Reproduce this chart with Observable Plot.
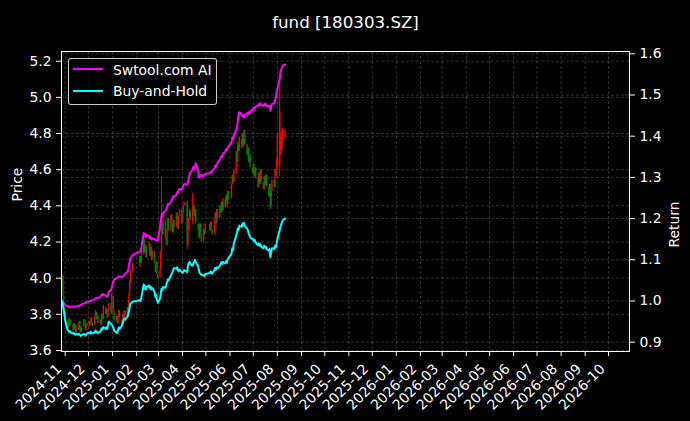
<!DOCTYPE html>
<html><head><meta charset="utf-8">
<script src="https://cdn.jsdelivr.net/npm/d3@7"></script>
<script src="https://cdn.jsdelivr.net/npm/@observablehq/plot@0.6"></script>
<style>
html,body{margin:0;padding:0;background:#000;}
#wrap{position:relative;width:690px;height:421px;overflow:hidden;font-family:"DejaVu Sans",sans-serif;}
#wrap svg{position:absolute;left:0;top:0;}
.lg{position:absolute;}
#legend{left:68px;top:58px;width:149px;height:47px;border:1px solid rgba(255,255,255,0.8);border-radius:3px;background:rgba(0,0,0,0.8);box-sizing:border-box;}
.sw{height:2px;width:30px;left:73px;}
.lt{left:113px;color:#fff;font-size:13.9px;line-height:16px;white-space:nowrap;}
</style>
</head><body>
<div id="wrap"></div>
<script>
// ---------------- data ----------------
const title = "fund [180303.SZ]";
const seriesNames = ["Swtool.com AI", "Buy-and-Hold"];
const holidays = ["2025-01-01","2025-01-28","2025-01-29","2025-01-30","2025-01-31","2025-02-03","2025-02-04","2025-04-04","2025-05-01","2025-05-02","2025-05-05","2025-06-02"];
const firstDay = "2024-10-28", lastDay = "2025-08-11";

const opens = [
 3.96,4.01,3.90,3.84,
 3.81,3.76,3.72,3.78,3.73,3.77,3.74,3.71,3.75,3.72,3.70,3.74,3.71,3.76,3.73,3.70,3.73,3.77,3.74,3.71,3.75,
 3.73,3.76,3.74,3.78,3.75,3.74,3.79,3.81,3.77,3.79,3.75,3.77,3.74,3.80,3.77,3.84,3.80,3.83,3.78,3.82,3.86,3.80,
 3.90,3.82,3.76,3.79,3.75,3.78,3.82,3.77,3.74,3.80,3.77,3.82,3.79,3.84,3.82,3.92,3.97,4.03,
 4.06,4.12,4.08,4.13,4.21,4.14,4.18,4.11,4.16,4.19,4.12,4.17,4.10,4.15,4.08,4.03,4.09,4.02,
 4.00,4.05,4.15,4.30,4.24,4.32,4.22,4.18,4.27,4.33,4.26,4.35,4.30,4.25,4.32,4.28,4.36,4.31,4.27,4.34,4.38,
 4.30,4.36,4.40,4.42,4.18,4.26,4.33,4.37,4.32,4.36,4.40,4.34,4.38,4.30,4.26,4.22,4.30,4.25,4.20,4.27,4.24,
 4.30,4.26,4.31,4.27,4.24,4.32,4.36,4.30,4.38,4.33,4.40,4.36,4.42,4.37,4.44,4.39,4.46,4.41,4.48,
 4.44,4.52,4.57,4.53,4.58,4.70,4.64,4.74,4.70,4.77,4.72,4.79,4.73,4.81,4.74,4.68,4.72,4.64,4.68,4.61,
 4.58,4.63,4.56,4.61,4.55,4.50,4.58,4.52,4.60,4.53,4.49,4.56,4.51,4.57,4.50,4.45,4.52,4.40,4.48,4.54,4.50,4.60,4.56,
 4.62,4.62,4.68,4.70,4.72,4.76,4.77
];
const closes = [
 4.02,3.90,3.84,3.80,
 3.76,3.72,3.77,3.73,3.76,3.74,3.71,3.75,3.72,3.70,3.74,3.71,3.76,3.73,3.70,3.73,3.77,3.74,3.71,3.75,3.73,
 3.76,3.74,3.78,3.75,3.73,3.79,3.82,3.77,3.79,3.75,3.77,3.74,3.80,3.77,3.85,3.80,3.83,3.78,3.82,3.86,3.80,3.91,
 3.82,3.76,3.79,3.75,3.78,3.82,3.78,3.74,3.80,3.77,3.82,3.79,3.84,3.81,3.92,3.98,4.04,4.08,
 4.12,4.08,4.15,4.22,4.14,4.18,4.11,4.16,4.20,4.12,4.17,4.10,4.15,4.08,4.03,4.09,4.02,4.00,
 4.05,4.15,4.30,4.24,4.32,4.22,4.18,4.27,4.33,4.26,4.35,4.30,4.25,4.32,4.28,4.36,4.31,4.27,4.34,4.38,4.30,
 4.36,4.40,4.42,4.20,4.26,4.33,4.38,4.32,4.36,4.40,4.34,4.38,4.30,4.26,4.22,4.30,4.25,4.20,4.27,4.24,4.30,
 4.26,4.31,4.27,4.24,4.32,4.36,4.30,4.38,4.33,4.40,4.36,4.42,4.37,4.44,4.39,4.46,4.41,4.48,4.43,
 4.52,4.57,4.53,4.60,4.70,4.64,4.75,4.70,4.78,4.72,4.80,4.73,4.82,4.74,4.68,4.72,4.64,4.68,4.61,4.58,
 4.63,4.56,4.61,4.55,4.50,4.58,4.52,4.60,4.53,4.49,4.56,4.51,4.57,4.50,4.45,4.52,4.38,4.48,4.54,4.50,4.60,4.56,4.66,
 4.80,4.92,4.80,4.78,4.82,4.83,4.82
];
const wickDates = ["2025-03-05","2025-04-07","2025-04-14","2025-08-04"];
const wickLows  = [4.15, 4.16, 4.30, 4.56];
const wickHighs = [4.56, 4.42, 4.47, 5.06];

const aiReturn = [
 1.000,0.998,0.995,0.992,
 0.990,0.987,0.987,0.986,0.987,0.986,0.986,0.987,0.986,0.986,0.987,0.987,0.988,0.990,0.990,0.991,0.994,0.995,0.995,0.997,0.998,
 0.999,1.000,1.001,1.000,1.002,1.004,1.007,1.006,1.008,1.007,1.010,1.012,1.016,1.014,1.017,1.013,1.011,1.010,1.014,1.022,1.026,1.034,
 1.048,1.052,1.055,1.057,1.058,1.060,1.059,1.058,1.060,1.061,1.062,1.066,1.070,1.075,1.088,1.096,1.104,1.112,
 1.120,1.122,1.130,1.165,1.158,1.163,1.156,1.160,1.158,1.152,1.155,1.150,1.152,1.150,1.148,1.149,1.147,1.147,
 1.178,1.195,1.210,1.205,1.214,1.218,1.222,1.228,1.236,1.233,1.240,1.245,1.250,1.254,1.252,1.258,1.264,1.262,1.268,1.272,1.270,
 1.276,1.280,1.284,1.282,1.290,1.298,1.305,1.312,1.318,1.326,1.320,1.328,1.334,1.318,1.300,1.305,1.302,1.306,1.303,1.306,1.308,
 1.310,1.314,1.312,1.315,1.322,1.328,1.326,1.332,1.336,1.344,1.348,1.352,1.350,1.358,1.362,1.368,1.366,1.372,1.374,
 1.385,1.396,1.392,1.402,1.415,1.422,1.436,1.450,1.458,1.452,1.448,1.452,1.446,1.450,1.456,1.452,1.458,1.455,1.460,1.465,
 1.468,1.464,1.470,1.472,1.475,1.478,1.474,1.480,1.476,1.474,1.478,1.476,1.479,1.474,1.472,1.474,1.462,1.470,1.478,1.480,1.488,1.494,1.508,
 1.515,1.538,1.556,1.562,1.568,1.572,1.574
];
const bhReturn = [
 1.000,0.990,0.978,0.968,
 0.952,0.930,0.928,0.925,0.927,0.924,0.921,0.923,0.920,0.918,0.921,0.918,0.921,0.918,0.915,0.917,0.920,0.918,0.916,0.919,0.921,
 0.923,0.921,0.925,0.923,0.921,0.924,0.928,0.924,0.926,0.922,0.925,0.929,0.934,0.931,0.937,0.933,0.936,0.932,0.940,0.950,0.944,0.942,
 0.935,0.928,0.924,0.922,0.928,0.936,0.932,0.940,0.947,0.951,0.957,0.955,0.962,0.966,0.975,0.985,0.994,0.998,
 1.002,1.000,1.008,1.040,1.030,1.036,1.028,1.034,1.038,1.030,1.035,1.028,1.032,1.022,1.010,1.015,1.002,0.996,
 1.005,1.018,1.030,1.026,1.034,1.032,1.038,1.045,1.052,1.050,1.062,1.066,1.070,1.076,1.080,1.078,1.082,1.075,1.072,1.076,1.070,
 1.068,1.072,1.075,1.070,1.085,1.093,1.095,1.090,1.086,1.092,1.095,1.100,1.094,1.085,1.075,1.068,1.066,1.064,1.062,1.060,1.065,
 1.068,1.072,1.070,1.066,1.075,1.080,1.076,1.082,1.079,1.086,1.090,1.094,1.090,1.095,1.091,1.097,1.093,1.100,1.104,
 1.115,1.128,1.124,1.140,1.158,1.165,1.176,1.172,1.183,1.180,1.188,1.184,1.190,1.182,1.176,1.172,1.164,1.160,1.155,1.150,
 1.150,1.145,1.148,1.142,1.136,1.140,1.134,1.138,1.132,1.128,1.134,1.130,1.132,1.126,1.122,1.126,1.106,1.118,1.128,1.126,1.134,1.130,1.140,
 1.150,1.172,1.180,1.186,1.192,1.196,1.200
];
const priceTicks = [3.6,3.8,4.0,4.2,4.4,4.6,4.8,5.0,5.2];
const returnTicks = [0.9,1.0,1.1,1.2,1.3,1.4,1.5,1.6];
const monthTickStart = "2024-11-01", monthTickEnd = "2026-10-01";
const xDomain = ["2024-10-27T06:00Z", "2026-10-28T00:00Z"];
const priceDomain = [3.5945, 5.2537];
const returnDomain = [0.8774, 1.6056];

// ---------------- build ----------------
const dates = [];
for (let t = Date.parse(firstDay + "T00:00Z"); t <= Date.parse(lastDay + "T00:00Z"); t += 86400000) {
  const d = new Date(t), wd = d.getUTCDay(), s = d.toISOString().slice(0, 10);
  if (wd > 0 && wd < 6 && !holidays.includes(s)) dates.push(d);
}
const n = Math.min(dates.length, opens.length, closes.length, aiReturn.length, bhReturn.length);
const rows = [];
for (let i = 0; i < n; i++) rows.push({date: dates[i], open: opens[i], close: closes[i], ai: aiReturn[i], bh: bhReturn[i]});
const wicks = wickDates.map((s, i) => ({date: new Date(s + "T00:00Z"), low: wickLows[i], high: wickHighs[i]}));
wicks.forEach(w => { const r = rows.find(d => +d.date === +w.date); w.color = r && r.close < r.open ? "#008000" : "#ff0000"; });

const [pMin, pMax] = priceDomain, [rMin, rMax] = returnDomain;
const toPrice = r => pMin + (r - rMin) * (pMax - pMin) / (rMax - rMin);
const fromPrice = p => rMin + (p - pMin) * (rMax - rMin) / (pMax - pMin);
const months = d3.utcMonth.range(new Date(monthTickStart + "T00:00Z"), new Date(Date.parse(monthTickEnd + "T00:00Z") + 86400000));

const grid = {stroke: "#8a8a8a", strokeOpacity: 0.6, strokeWidth: 0.6, strokeDasharray: "3,2"};

const chart = Plot.plot({
  width: 690, height: 421,
  marginLeft: 61, marginRight: 61, marginTop: 51, marginBottom: 70,
  style: {background: "#000", color: "#fff", fontFamily: "DejaVu Sans", fontSize: "13.9px", overflow: "visible"},
  x: {type: "utc", domain: xDomain.map(s => new Date(s))},
  y: {domain: priceDomain},
  marks: [
    Plot.gridX(months, grid),
    Plot.gridY(priceTicks, grid),
    Plot.gridY(returnTicks.map(toPrice), grid),
    Plot.ruleX(wicks, {x: "date", y1: "low", y2: "high", stroke: d => d.color, strokeWidth: 1}),
    Plot.ruleX(rows.filter(d => d.close >= d.open), {x: "date", y1: "open", y2: "close", stroke: "#ff0000", strokeWidth: 1.4}),
    Plot.ruleX(rows.filter(d => d.close < d.open), {x: "date", y1: "open", y2: "close", stroke: "#008000", strokeWidth: 1.4}),
    Plot.line(rows, {x: "date", y: d => toPrice(d.ai), stroke: "#ff00ff", strokeWidth: 2}),
    Plot.line(rows, {x: "date", y: d => toPrice(d.bh), stroke: "#00ffff", strokeWidth: 2}),
    Plot.frame({stroke: "#fff", strokeWidth: 1}),
    Plot.axisY(priceTicks, {anchor: "left", tickSize: 5, tickPadding: 5, tickFormat: d => d.toFixed(1), label: null}),
    Plot.axisY(returnTicks.map(toPrice), {anchor: "right", tickSize: 5, tickPadding: 5, tickFormat: d => fromPrice(d).toFixed(1), label: null}),
    Plot.axisX(months, {anchor: "bottom", tickSize: 5, tickFormat: () => "", label: null}),
    Plot.axisX(months, {anchor: "bottom", tickSize: 0, tickPadding: 15, tickRotate: -45, dx: -6, tickFormat: d3.utcFormat("%Y-%m"), label: null}),
    Plot.text(["Price"], {frameAnchor: "left", dx: -44, rotate: -90, fill: "#fff", fontSize: 13.9}),
    Plot.text(["Return"], {frameAnchor: "right", dx: 45, rotate: -90, fill: "#fff", fontSize: 13.9}),
    Plot.text([title], {frameAnchor: "top", dy: -35.5, fill: "#fff", fontSize: 16.67})
  ]
});
const wrap = document.getElementById("wrap");
wrap.appendChild(chart);

// legend
const lg = document.createElement("div"); lg.id = "legend"; lg.className = "lg"; wrap.appendChild(lg);
const legendColors = ["#ff00ff", "#00ffff"];
const lineY = [68, 90], textTop = [62, 83];
seriesNames.forEach((name, i) => {
  const sw = document.createElement("div"); sw.className = "lg sw";
  sw.style.top = lineY[i] + "px"; sw.style.background = legendColors[i]; wrap.appendChild(sw);
  const t = document.createElement("div"); t.className = "lg lt"; t.style.top = textTop[i] + "px";
  t.textContent = name; wrap.appendChild(t);
});
</script>
</body></html>
